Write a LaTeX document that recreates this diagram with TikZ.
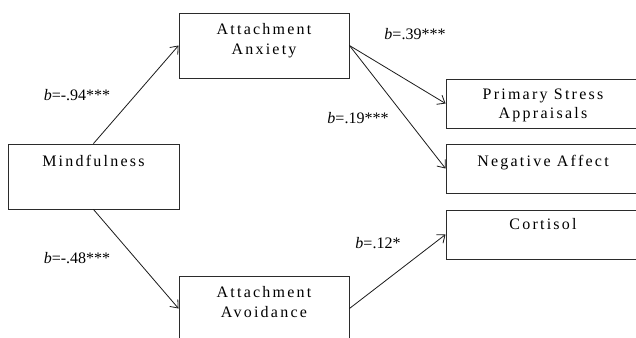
\documentclass[tikz,border=0pt]{standalone}
\usepackage{fontspec}
\setmainfont{Liberation Serif}
\newfontfamily\spacedserif[LetterSpace=14]{Liberation Serif}
\usepackage{tikz}
\usetikzlibrary{positioning,arrows.meta}
\definecolor{boxLine}{HTML}{2B2B2B}
\definecolor{pathLine}{HTML}{1A1A1A}

\begin{document}
\begin{tikzpicture}[
  x=0.75pt, y=-0.75pt,
  var/.style={draw=boxLine, line width=0.7pt, fill=white, inner sep=0pt},
  varlbl/.style={anchor=north, inner sep=0pt, align=center, yshift=-8.25pt,
                 font=\spacedserif\fontsize{12}{14.6}\selectfont},
  pth/.style={-{Straight Barb[length=5pt,width=8pt]}, draw=pathLine, line width=0.6pt},
  coef/.style={font=\fontsize{12}{14}\selectfont, inner sep=1pt}
]
\useasboundingbox (0,0) rectangle (636,337);
\clip (0,0) rectangle (636,337);

% ---- predictor
\node[var, minimum width=171*0.75pt, minimum height=65*0.75pt,
      label={[varlbl]north:Mindfulness}] (mind) at (93.5,176.5) {};

% ---- mediators
\node[var, minimum width=170*0.75pt, minimum height=65*0.75pt,
      label={[varlbl]north:Attachment\\Anxiety}] (anx) at (264,45.5) {};
\node[var, minimum width=170*0.75pt, minimum height=65*0.75pt,
      label={[varlbl]north:Attachment\\Avoidance}] (avd) at (264,308.5) {};

% ---- outcomes
\node[var, minimum width=194*0.75pt, minimum height=49*0.75pt,
      label={[varlbl, yshift=0.75pt]north:Primary Stress\\Appraisals}] (psa) at (543,103.5) {};
\node[var, minimum width=194*0.75pt, minimum height=49*0.75pt,
      label={[varlbl]north:Negative Affect}] (neg) at (543,168.5) {};
\node[var, minimum width=194*0.75pt, minimum height=49*0.75pt,
      label={[varlbl, yshift=2pt]north:Cortisol}] (cort) at (543,234.5) {};

% ---- paths
\draw[pth] (mind.north) -- (anx.west);
\draw[pth] (mind.south) -- (avd.west);
\draw[pth] (anx.east) -- (psa.west);
\draw[pth] (anx.east) -- (neg.west);
\draw[pth] (avd.east) -- (cort.west);

% ---- coefficients
\node[coef] (c1) at (77,95)   {\textit{b}=-.94***};
\node[coef] (c2) at (77,258)  {\textit{b}=-.48***};
\node[coef] (c3) at (415,34)  {\textit{b}=.39***};
\node[coef] (c4) at (358,118) {\textit{b}=.19***};
\node[coef] (c5) at (378,243) {\textit{b}=.12*};
\end{tikzpicture}
\end{document}
